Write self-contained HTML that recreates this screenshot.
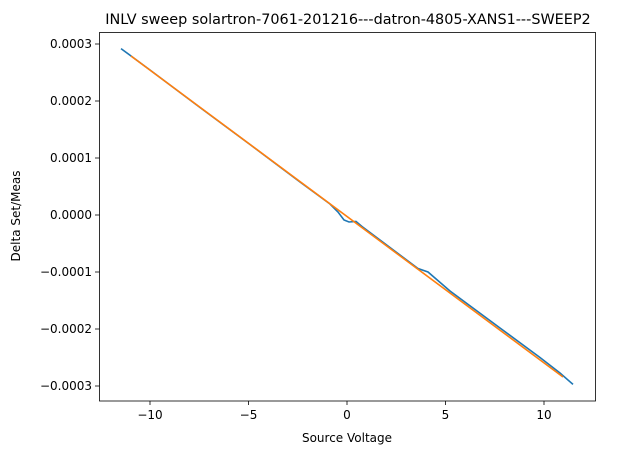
<!DOCTYPE html>
<html><head><style>body{margin:0;background:#fff}svg text{font-family:"DejaVu Sans","Liberation Sans",sans-serif;fill:#000}</style></head><body>
<svg width="636" height="455" xmlns="http://www.w3.org/2000/svg">
<rect width="636" height="455" fill="#fff"/>
<text x="348" y="24" font-size="14.4" text-anchor="middle">INLV sweep solartron-7061-201216---datron-4805-XANS1---SWEEP2</text>
<polyline fill="none" stroke="#1f77b4" stroke-width="1.6" points="121,48.6 150,70 200,107.5 250,144.5 300,182 330,204 338,212 344,220 349,222 356,221.5 362,226.5 380,240 400,255 418,268.5 428,272 450,291 500,328 540,357.5 560,373 573,384.4"/>
<polyline fill="none" stroke="#ff7f0e" stroke-width="1.6" points="131,56 563,377"/>
<rect x="99.5" y="32.5" width="496" height="368.5" fill="none" stroke="#000" stroke-width="0.8"/>
<g stroke="#000" stroke-width="0.8">
<line x1="150" y1="401" x2="150" y2="405"/><line x1="248.5" y1="401" x2="248.5" y2="405"/><line x1="347" y1="401" x2="347" y2="405"/><line x1="445.5" y1="401" x2="445.5" y2="405"/><line x1="544" y1="401" x2="544" y2="405"/>
<line x1="95" y1="44" x2="99.5" y2="44"/><line x1="95" y1="101" x2="99.5" y2="101"/><line x1="95" y1="158" x2="99.5" y2="158"/><line x1="95" y1="215" x2="99.5" y2="215"/><line x1="95" y1="272" x2="99.5" y2="272"/><line x1="95" y1="329" x2="99.5" y2="329"/><line x1="95" y1="386" x2="99.5" y2="386"/>
</g>
<g font-size="12" text-anchor="middle">
<text x="150" y="419">−10</text><text x="248.5" y="419">−5</text><text x="347" y="419">0</text><text x="445.5" y="419">5</text><text x="544" y="419">10</text>
</g>
<g font-size="12" text-anchor="end">
<text x="92" y="48">0.0003</text><text x="92" y="105">0.0002</text><text x="92" y="162">0.0001</text><text x="92" y="219">0.0000</text><text x="92" y="276">−0.0001</text><text x="92" y="333">−0.0002</text><text x="92" y="390">−0.0003</text>
</g>
<text x="347" y="442" font-size="12" text-anchor="middle">Source Voltage</text>
<text transform="translate(20,216) rotate(-90)" font-size="12" text-anchor="middle">Delta Set/Meas</text>
</svg>
</body></html>
